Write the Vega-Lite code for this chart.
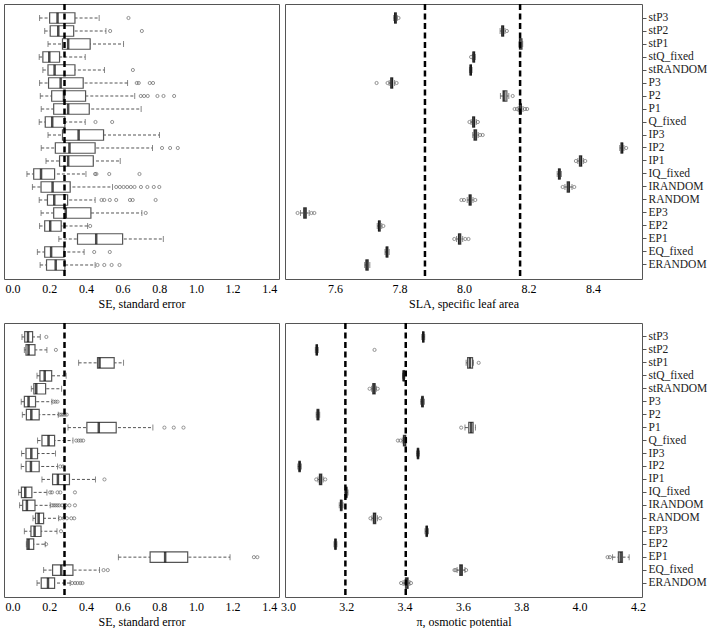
{
"$schema":"https://vega.github.io/schema/vega-lite/v6.json",
"padding":{"left":3,"top":2,"right":0,"bottom":0},
"background":"white",
"config":{"view":{"stroke":"#555","strokeWidth":1},"axis":{"grid":false,"domain":false,"labelOverlap":false,"labelFont":"Liberation Serif","titleFont":"Liberation Serif","labelFontSize":12,"titleFontSize":12,"titleFontWeight":"normal","labelColor":"#000","titleColor":"#000"}},
"datasets":{
"seTop":[
{"c":"stP3","lo":0.147,"q1":0.202,"med":0.245,"q3":0.34,"hi":0.472},
{"c":"stP2","lo":0.175,"q1":0.205,"med":0.249,"q3":0.333,"hi":0.509},
{"c":"stP1","lo":0.193,"q1":0.272,"med":0.303,"q3":0.423,"hi":0.605},
{"c":"stQ_fixed","lo":0.145,"q1":0.165,"med":0.2,"q3":0.256,"hi":0.396},
{"c":"stRANDOM","lo":0.165,"q1":0.193,"med":0.229,"q3":0.34,"hi":0.501},
{"c":"P3","lo":0.147,"q1":0.196,"med":0.262,"q3":0.385,"hi":0.627},
{"c":"P2","lo":0.151,"q1":0.213,"med":0.28,"q3":0.398,"hi":0.666},
{"c":"P1","lo":0.156,"q1":0.224,"med":0.303,"q3":0.418,"hi":0.701},
{"c":"Q_fixed","lo":0.145,"q1":0.178,"med":0.216,"q3":0.285,"hi":0.396},
{"c":"IP3","lo":0.193,"q1":0.272,"med":0.36,"q3":0.496,"hi":0.801},
{"c":"IP2","lo":0.156,"q1":0.233,"med":0.31,"q3":0.45,"hi":0.763},
{"c":"IP1","lo":0.182,"q1":0.256,"med":0.303,"q3":0.44,"hi":0.587},
{"c":"IQ_fixed","lo":0.078,"q1":0.115,"med":0.155,"q3":0.229,"hi":0.4},
{"c":"IRANDOM","lo":0.108,"q1":0.155,"med":0.218,"q3":0.314,"hi":0.545},
{"c":"RANDOM","lo":0.145,"q1":0.19,"med":0.227,"q3":0.3,"hi":0.45},
{"c":"EP3","lo":0.155,"q1":0.224,"med":0.29,"q3":0.427,"hi":0.705},
{"c":"EP2","lo":0.147,"q1":0.175,"med":0.205,"q3":0.265,"hi":0.409},
{"c":"EP1","lo":0.252,"q1":0.354,"med":0.456,"q3":0.6,"hi":0.822},
{"c":"EQ_fixed","lo":0.135,"q1":0.175,"med":0.21,"q3":0.28,"hi":0.39},
{"c":"ERANDOM","lo":0.15,"q1":0.185,"med":0.235,"q3":0.285,"hi":0.45}],
"seTopOut":[
{"c":"stP3","v":0.632},{"c":"stP2","v":0.532},{"c":"stP2","v":0.705},{"c":"stRANDOM","v":0.656},
{"c":"P3","v":0.677},{"c":"P3","v":0.688},{"c":"P3","v":0.748},{"c":"P3","v":0.766},
{"c":"P2","v":0.699},{"c":"P2","v":0.717},{"c":"P2","v":0.737},{"c":"P2","v":0.79},{"c":"P2","v":0.823},{"c":"P2","v":0.881},
{"c":"Q_fixed","v":0.452},{"c":"Q_fixed","v":0.543},
{"c":"IP2","v":0.815},{"c":"IP2","v":0.859},{"c":"IP2","v":0.901},
{"c":"IQ_fixed","v":0.45},{"c":"IQ_fixed","v":0.457},{"c":"IQ_fixed","v":0.527},{"c":"IQ_fixed","v":0.692},
{"c":"IRANDOM","v":0.565},{"c":"IRANDOM","v":0.585},{"c":"IRANDOM","v":0.605},{"c":"IRANDOM","v":0.625},{"c":"IRANDOM","v":0.645},{"c":"IRANDOM","v":0.665},{"c":"IRANDOM","v":0.7},{"c":"IRANDOM","v":0.735},{"c":"IRANDOM","v":0.77},{"c":"IRANDOM","v":0.8},
{"c":"RANDOM","v":0.485},{"c":"RANDOM","v":0.5},{"c":"RANDOM","v":0.53},{"c":"RANDOM","v":0.565},{"c":"RANDOM","v":0.64},{"c":"RANDOM","v":0.655},{"c":"RANDOM","v":0.78},
{"c":"EP3","v":0.726},{"c":"EP2","v":0.423},
{"c":"EQ_fixed","v":0.445},{"c":"EQ_fixed","v":0.53},
{"c":"ERANDOM","v":0.463},{"c":"ERANDOM","v":0.5},{"c":"ERANDOM","v":0.54},{"c":"ERANDOM","v":0.583}],
"seBot":[
{"c":"stP3","lo":0.051,"q1":0.066,"med":0.084,"q3":0.109,"hi":0.151},
{"c":"stP2","lo":0.064,"q1":0.073,"med":0.087,"q3":0.122,"hi":0.187},
{"c":"stP1","lo":0.36,"q1":0.463,"med":0.474,"q3":0.554,"hi":0.605},
{"c":"stQ_fixed","lo":0.133,"q1":0.149,"med":0.175,"q3":0.213,"hi":0.292},
{"c":"stRANDOM","lo":0.102,"q1":0.116,"med":0.129,"q3":0.18,"hi":0.267},
{"c":"P3","lo":0.047,"q1":0.064,"med":0.087,"q3":0.125,"hi":0.214},
{"c":"P2","lo":0.053,"q1":0.075,"med":0.102,"q3":0.145,"hi":0.249},
{"c":"P1","lo":0.302,"q1":0.405,"med":0.47,"q3":0.565,"hi":0.765},
{"c":"Q_fixed","lo":0.136,"q1":0.16,"med":0.196,"q3":0.229,"hi":0.329},
{"c":"IP3","lo":0.049,"q1":0.073,"med":0.102,"q3":0.136,"hi":0.234},
{"c":"IP2","lo":0.047,"q1":0.073,"med":0.1,"q3":0.145,"hi":0.245},
{"c":"IP1","lo":0.16,"q1":0.218,"med":0.247,"q3":0.31,"hi":0.452},
{"c":"IQ_fixed","lo":0.033,"q1":0.048,"med":0.069,"q3":0.105,"hi":0.187},
{"c":"IRANDOM","lo":0.038,"q1":0.055,"med":0.078,"q3":0.122,"hi":0.205},
{"c":"RANDOM","lo":0.111,"q1":0.125,"med":0.142,"q3":0.169,"hi":0.251},
{"c":"EP3","lo":0.064,"q1":0.1,"med":0.12,"q3":0.155,"hi":0.242},
{"c":"EP2","lo":0.075,"q1":0.078,"med":0.087,"q3":0.115,"hi":0.178},
{"c":"EP1","lo":0.577,"q1":0.75,"med":0.832,"q3":0.955,"hi":1.186},
{"c":"EQ_fixed","lo":0.169,"q1":0.218,"med":0.265,"q3":0.329,"hi":0.474},
{"c":"ERANDOM","lo":0.133,"q1":0.156,"med":0.193,"q3":0.229,"hi":0.314}],
"seBotOut":[
{"c":"stP3","v":0.184},{"c":"stP2","v":0.236},
{"c":"P3","v":0.223},{"c":"P3","v":0.234},{"c":"P3","v":0.245},
{"c":"P2","v":0.256},{"c":"P2","v":0.265},{"c":"P2","v":0.275},{"c":"P2","v":0.285},{"c":"P2","v":0.295},
{"c":"P1","v":0.828},{"c":"P1","v":0.879},{"c":"P1","v":0.932},
{"c":"Q_fixed","v":0.347},{"c":"Q_fixed","v":0.36},{"c":"Q_fixed","v":0.372},{"c":"Q_fixed","v":0.385},
{"c":"IP2","v":0.26},{"c":"IP2","v":0.275},
{"c":"IP1","v":0.501},
{"c":"IQ_fixed","v":0.205},{"c":"IQ_fixed","v":0.215},{"c":"IQ_fixed","v":0.245},{"c":"IQ_fixed","v":0.26},{"c":"IQ_fixed","v":0.34},
{"c":"IRANDOM","v":0.215},{"c":"IRANDOM","v":0.225},{"c":"IRANDOM","v":0.235},{"c":"IRANDOM","v":0.245},{"c":"IRANDOM","v":0.255},{"c":"IRANDOM","v":0.27},{"c":"IRANDOM","v":0.29},{"c":"IRANDOM","v":0.31},{"c":"IRANDOM","v":0.34},
{"c":"RANDOM","v":0.26},{"c":"RANDOM","v":0.278},{"c":"RANDOM","v":0.296},{"c":"RANDOM","v":0.32},{"c":"RANDOM","v":0.336},
{"c":"EP3","v":0.264},{"c":"EP2","v":0.183},
{"c":"EP1","v":1.316},{"c":"EP1","v":1.335},
{"c":"EQ_fixed","v":0.496},{"c":"EQ_fixed","v":0.519},
{"c":"ERANDOM","v":0.325},{"c":"ERANDOM","v":0.341},{"c":"ERANDOM","v":0.354},{"c":"ERANDOM","v":0.369},{"c":"ERANDOM","v":0.381}],
"sla":[
{"c":"stP3","lo":7.782,"q1":7.785,"med":7.787,"q3":7.79,"hi":7.793},
{"c":"stP2","lo":8.112,"q1":8.117,"med":8.12,"q3":8.123,"hi":8.127},
{"c":"stP1","lo":8.171,"q1":8.172,"med":8.175,"q3":8.18,"hi":8.182},
{"c":"stQ_fixed","lo":8.026,"q1":8.028,"med":8.03,"q3":8.033,"hi":8.035},
{"c":"stRANDOM","lo":8.017,"q1":8.019,"med":8.021,"q3":8.023,"hi":8.025},
{"c":"P3","lo":7.768,"q1":7.773,"med":7.776,"q3":7.779,"hi":7.785},
{"c":"P2","lo":8.113,"q1":8.121,"med":8.125,"q3":8.133,"hi":8.139},
{"c":"P1","lo":8.168,"q1":8.172,"med":8.175,"q3":8.178,"hi":8.183},
{"c":"Q_fixed","lo":8.022,"q1":8.027,"med":8.03,"q3":8.033,"hi":8.038},
{"c":"IP3","lo":8.027,"q1":8.031,"med":8.035,"q3":8.039,"hi":8.044},
{"c":"IP2","lo":8.483,"q1":8.487,"med":8.49,"q3":8.492,"hi":8.496},
{"c":"IP1","lo":8.353,"q1":8.358,"med":8.362,"q3":8.365,"hi":8.37},
{"c":"IQ_fixed","lo":8.289,"q1":8.293,"med":8.296,"q3":8.298,"hi":8.302},
{"c":"IRANDOM","lo":8.313,"q1":8.32,"med":8.324,"q3":8.327,"hi":8.335},
{"c":"RANDOM","lo":8.01,"q1":8.016,"med":8.019,"q3":8.022,"hi":8.028},
{"c":"EP3","lo":7.493,"q1":7.503,"med":7.507,"q3":7.511,"hi":7.52},
{"c":"EP2","lo":7.731,"q1":7.735,"med":7.737,"q3":7.74,"hi":7.745},
{"c":"EP1","lo":7.977,"q1":7.983,"med":7.986,"q3":7.99,"hi":7.996},
{"c":"EQ_fixed","lo":7.755,"q1":7.759,"med":7.761,"q3":7.764,"hi":7.768},
{"c":"ERANDOM","lo":7.692,"q1":7.696,"med":7.699,"q3":7.703,"hi":7.708}],
"slaOut":[
{"c":"stP3","v":7.797},{"c":"stP2","v":8.133},{"c":"stQ_fixed","v":8.022},
{"c":"P3","v":7.729},{"c":"P3","v":7.763},{"c":"P3","v":7.791},
{"c":"P2","v":8.151},
{"c":"P1","v":8.157},{"c":"P1","v":8.164},{"c":"P1","v":8.189},{"c":"P1","v":8.196},
{"c":"Q_fixed","v":8.017},{"c":"Q_fixed","v":8.043},
{"c":"IP3","v":8.05},{"c":"IP3","v":8.058},
{"c":"IP2","v":8.503},
{"c":"IP1","v":8.347},{"c":"IP1","v":8.376},
{"c":"IRANDOM","v":8.306},{"c":"IRANDOM","v":8.342},
{"c":"RANDOM","v":7.992},{"c":"RANDOM","v":8.0},{"c":"RANDOM","v":8.035},
{"c":"EP3","v":7.484},{"c":"EP3","v":7.527},{"c":"EP3","v":7.536},
{"c":"EP2","v":7.75},
{"c":"EP1","v":7.97},{"c":"EP1","v":8.004},{"c":"EP1","v":8.014}],
"pi":[
{"c":"stP3","lo":3.459,"q1":3.462,"med":3.464,"q3":3.466,"hi":3.469},
{"c":"stP2","lo":3.094,"q1":3.097,"med":3.099,"q3":3.101,"hi":3.104},
{"c":"stP1","lo":3.611,"q1":3.616,"med":3.624,"q3":3.633,"hi":3.636},
{"c":"stQ_fixed","lo":3.393,"q1":3.395,"med":3.397,"q3":3.399,"hi":3.401},
{"c":"stRANDOM","lo":3.287,"q1":3.291,"med":3.295,"q3":3.299,"hi":3.303},
{"c":"P3","lo":3.455,"q1":3.459,"med":3.461,"q3":3.464,"hi":3.468},
{"c":"P2","lo":3.097,"q1":3.1,"med":3.103,"q3":3.106,"hi":3.109},
{"c":"P1","lo":3.607,"q1":3.62,"med":3.628,"q3":3.635,"hi":3.643},
{"c":"Q_fixed","lo":3.392,"q1":3.396,"med":3.4,"q3":3.404,"hi":3.407},
{"c":"IP3","lo":3.441,"q1":3.444,"med":3.446,"q3":3.448,"hi":3.451},
{"c":"IP2","lo":3.034,"q1":3.038,"med":3.04,"q3":3.042,"hi":3.046},
{"c":"IP1","lo":3.103,"q1":3.108,"med":3.112,"q3":3.116,"hi":3.121},
{"c":"IQ_fixed","lo":3.194,"q1":3.198,"med":3.2,"q3":3.202,"hi":3.206},
{"c":"IRANDOM","lo":3.176,"q1":3.18,"med":3.183,"q3":3.185,"hi":3.189},
{"c":"RANDOM","lo":3.288,"q1":3.293,"med":3.297,"q3":3.301,"hi":3.307},
{"c":"EP3","lo":3.47,"q1":3.474,"med":3.476,"q3":3.478,"hi":3.482},
{"c":"EP2","lo":3.158,"q1":3.161,"med":3.163,"q3":3.165,"hi":3.168},
{"c":"EP1","lo":4.113,"q1":4.133,"med":4.141,"q3":4.147,"hi":4.17},
{"c":"EQ_fixed","lo":3.58,"q1":3.589,"med":3.594,"q3":3.598,"hi":3.607},
{"c":"ERANDOM","lo":3.395,"q1":3.403,"med":3.408,"q3":3.412,"hi":3.418}],
"piOut":[
{"c":"stP2","v":3.297},{"c":"stP1","v":3.654},
{"c":"stRANDOM","v":3.28},{"c":"stRANDOM","v":3.308},
{"c":"P1","v":3.594},
{"c":"Q_fixed","v":3.377},{"c":"Q_fixed","v":3.386},
{"c":"IP1","v":3.097},{"c":"IP1","v":3.128},
{"c":"RANDOM","v":3.283},{"c":"RANDOM","v":3.316},
{"c":"EP1","v":4.096},{"c":"EP1","v":4.104},
{"c":"EQ_fixed","v":3.571},{"c":"EQ_fixed","v":3.575},{"c":"EQ_fixed","v":3.611},
{"c":"ERANDOM","v":3.388},{"c":"ERANDOM","v":3.422}],
"refSE":[{"v":0.283}],
"refSLA":[{"v":7.879},{"v":8.174}],
"refPI":[{"v":3.197},{"v":3.404}]
},
"spacing":11,
"vconcat":[
{"hconcat":[
{"width":275,"height":275,
"encoding":{"x":{"type":"quantitative","title":"SE, standard error","scale":{"domain":[-0.047,1.453],"nice":false,"zero":false},"axis":{"tickCount":8,"format":".1f","ticks":false,"labelOverlap":false,"labelFlush":false,"labelPadding":4,"titlePadding":4}}},
"layer":[
{"data":{"name":"seTop"},"mark":{"type":"rule","strokeDash":[3,2],"color":"#555","strokeWidth":1},
"encoding":{"y":{"field":"c","type":"nominal","sort":null,"scale":{"domain":["stP3","stP2","stP1","stQ_fixed","stRANDOM","P3","P2","P1","Q_fixed","IP3","IP2","IP1","IQ_fixed","IRANDOM","RANDOM","EP3","EP2","EP1","EQ_fixed","ERANDOM"],"paddingInner":0,"paddingOuter":0.577},"axis":null},
"x":{"field":"lo"},"x2":{"field":"hi"}}},
{"data":{"name":"seTop"},"mark":{"type":"tick","size":6,"thickness":1,"color":"#555"},"encoding":{"y":{"field":"c","type":"nominal"},"x":{"field":"lo"}}},
{"data":{"name":"seTop"},"mark":{"type":"tick","size":6,"thickness":1,"color":"#555"},"encoding":{"y":{"field":"c","type":"nominal"},"x":{"field":"hi"}}},
{"data":{"name":"seTop"},"mark":{"type":"bar","size":10.5,"fill":"white","stroke":"#555","strokeWidth":1.2},"encoding":{"y":{"field":"c","type":"nominal"},"x":{"field":"q1"},"x2":{"field":"q3"}}},
{"data":{"name":"seTop"},"mark":{"type":"tick","size":10.5,"thickness":2.5,"color":"#000"},"encoding":{"y":{"field":"c","type":"nominal"},"x":{"field":"med"}}},
{"data":{"name":"seTopOut"},"mark":{"type":"point","shape":"circle","filled":false,"size":10,"strokeWidth":0.9,"color":"#555"},"encoding":{"y":{"field":"c","type":"nominal"},"x":{"field":"v"}}},
{"data":{"name":"refSE"},"mark":{"type":"rule","strokeDash":[6,3.5],"strokeWidth":2.5,"color":"#000"},"encoding":{"x":{"field":"v"}}}
]},
{"width":357,"height":275,
"layer":[
{"data":{"name":"sla"},"mark":{"type":"rule","strokeDash":[3,2],"color":"#555","strokeWidth":1},
"encoding":{"y":{"field":"c","type":"nominal","sort":null,"scale":{"domain":["stP3","stP2","stP1","stQ_fixed","stRANDOM","P3","P2","P1","Q_fixed","IP3","IP2","IP1","IQ_fixed","IRANDOM","RANDOM","EP3","EP2","EP1","EQ_fixed","ERANDOM"],"paddingInner":0,"paddingOuter":0.577},"axis":{"orient":"right","title":null,"ticks":true,"tickSize":4,"tickColor":"#555","labelPadding":2,"labelFontSize":11.5,"labelColor":"#222"}},
"x":{"field":"lo","type":"quantitative","title":"SLA, specific leaf area","scale":{"domain":[7.445,8.552],"nice":false,"zero":false},"axis":{"values":[7.6,7.8,8.0,8.2,8.4],"format":".1f","ticks":false,"labelOverlap":false,"labelPadding":4,"titlePadding":4}},
"x2":{"field":"hi"}}},
{"data":{"name":"sla"},"mark":{"type":"tick","size":6,"thickness":1,"color":"#555"},"encoding":{"y":{"field":"c","type":"nominal"},"x":{"field":"lo","type":"quantitative"}}},
{"data":{"name":"sla"},"mark":{"type":"tick","size":6,"thickness":1,"color":"#555"},"encoding":{"y":{"field":"c","type":"nominal"},"x":{"field":"hi","type":"quantitative"}}},
{"data":{"name":"sla"},"mark":{"type":"bar","size":10.5,"fill":"white","stroke":"#555","strokeWidth":1.2},"encoding":{"y":{"field":"c","type":"nominal"},"x":{"field":"q1","type":"quantitative"},"x2":{"field":"q3"}}},
{"data":{"name":"sla"},"mark":{"type":"tick","size":10.5,"thickness":2.5,"color":"#000"},"encoding":{"y":{"field":"c","type":"nominal"},"x":{"field":"med","type":"quantitative"}}},
{"data":{"name":"slaOut"},"mark":{"type":"point","shape":"circle","filled":false,"size":10,"strokeWidth":0.9,"color":"#555"},"encoding":{"y":{"field":"c","type":"nominal"},"x":{"field":"v","type":"quantitative"}}},
{"data":{"name":"refSLA"},"mark":{"type":"rule","strokeDash":[6,3.5],"strokeWidth":2.5,"color":"#000"},"encoding":{"x":{"field":"v","type":"quantitative"}}}
]}
],"spacing":6,"bounds":"flush"},
{"hconcat":[
{"width":275,"height":274,
"encoding":{"x":{"type":"quantitative","title":"SE, standard error","scale":{"domain":[-0.047,1.453],"nice":false,"zero":false},"axis":{"tickCount":8,"format":".1f","ticks":false,"labelOverlap":false,"labelFlush":false,"labelPadding":4,"titlePadding":4}}},
"layer":[
{"data":{"name":"seBot"},"mark":{"type":"rule","strokeDash":[3,2],"color":"#555","strokeWidth":1},
"encoding":{"y":{"field":"c","type":"nominal","sort":null,"scale":{"domain":["stP3","stP2","stP1","stQ_fixed","stRANDOM","P3","P2","P1","Q_fixed","IP3","IP2","IP1","IQ_fixed","IRANDOM","RANDOM","EP3","EP2","EP1","EQ_fixed","ERANDOM"],"paddingInner":0,"paddingOuter":0.577},"axis":null},
"x":{"field":"lo"},"x2":{"field":"hi"}}},
{"data":{"name":"seBot"},"mark":{"type":"tick","size":6,"thickness":1,"color":"#555"},"encoding":{"y":{"field":"c","type":"nominal"},"x":{"field":"lo"}}},
{"data":{"name":"seBot"},"mark":{"type":"tick","size":6,"thickness":1,"color":"#555"},"encoding":{"y":{"field":"c","type":"nominal"},"x":{"field":"hi"}}},
{"data":{"name":"seBot"},"mark":{"type":"bar","size":10.5,"fill":"white","stroke":"#555","strokeWidth":1.2},"encoding":{"y":{"field":"c","type":"nominal"},"x":{"field":"q1"},"x2":{"field":"q3"}}},
{"data":{"name":"seBot"},"mark":{"type":"tick","size":10.5,"thickness":2.5,"color":"#000"},"encoding":{"y":{"field":"c","type":"nominal"},"x":{"field":"med"}}},
{"data":{"name":"seBotOut"},"mark":{"type":"point","shape":"circle","filled":false,"size":10,"strokeWidth":0.9,"color":"#555"},"encoding":{"y":{"field":"c","type":"nominal"},"x":{"field":"v"}}},
{"data":{"name":"refSE"},"mark":{"type":"rule","strokeDash":[6,3.5],"strokeWidth":2.5,"color":"#000"},"encoding":{"x":{"field":"v"}}}
]},
{"width":357,"height":274,
"layer":[
{"data":{"name":"pi"},"mark":{"type":"rule","strokeDash":[3,2],"color":"#555","strokeWidth":1},
"encoding":{"y":{"field":"c","type":"nominal","sort":null,"scale":{"domain":["stP3","stP2","stP1","stQ_fixed","stRANDOM","P3","P2","P1","Q_fixed","IP3","IP2","IP1","IQ_fixed","IRANDOM","RANDOM","EP3","EP2","EP1","EQ_fixed","ERANDOM"],"paddingInner":0,"paddingOuter":0.577},"axis":{"orient":"right","title":null,"ticks":true,"tickSize":4,"tickColor":"#555","labelPadding":2,"labelFontSize":11.5,"labelColor":"#222"}},
"x":{"field":"lo","type":"quantitative","title":"π, osmotic potential","scale":{"domain":[2.99,4.214],"nice":false,"zero":false},"axis":{"values":[3.0,3.2,3.4,3.6,3.8,4.0,4.2],"format":".1f","ticks":false,"labelOverlap":false,"labelPadding":4,"titlePadding":4}},
"x2":{"field":"hi"}}},
{"data":{"name":"pi"},"mark":{"type":"tick","size":6,"thickness":1,"color":"#555"},"encoding":{"y":{"field":"c","type":"nominal"},"x":{"field":"lo","type":"quantitative"}}},
{"data":{"name":"pi"},"mark":{"type":"tick","size":6,"thickness":1,"color":"#555"},"encoding":{"y":{"field":"c","type":"nominal"},"x":{"field":"hi","type":"quantitative"}}},
{"data":{"name":"pi"},"mark":{"type":"bar","size":10.5,"fill":"white","stroke":"#555","strokeWidth":1.2},"encoding":{"y":{"field":"c","type":"nominal"},"x":{"field":"q1","type":"quantitative"},"x2":{"field":"q3"}}},
{"data":{"name":"pi"},"mark":{"type":"tick","size":10.5,"thickness":2.5,"color":"#000"},"encoding":{"y":{"field":"c","type":"nominal"},"x":{"field":"med","type":"quantitative"}}},
{"data":{"name":"piOut"},"mark":{"type":"point","shape":"circle","filled":false,"size":10,"strokeWidth":0.9,"color":"#555"},"encoding":{"y":{"field":"c","type":"nominal"},"x":{"field":"v","type":"quantitative"}}},
{"data":{"name":"refPI"},"mark":{"type":"rule","strokeDash":[6,3.5],"strokeWidth":2.5,"color":"#000"},"encoding":{"x":{"field":"v","type":"quantitative"}}}
]}
],"spacing":6,"bounds":"flush"}
]
}
